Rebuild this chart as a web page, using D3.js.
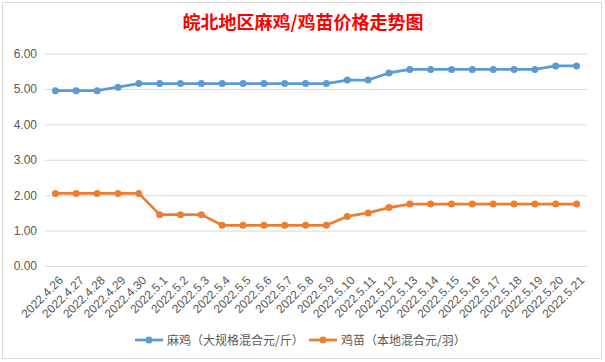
<!DOCTYPE html>
<html>
<head>
<meta charset="utf-8">
<script src="https://cdn.jsdelivr.net/npm/d3@7"></script>
<style>
  body { margin: 0; background: #fff; }
  svg { display: block; font-family: "Noto Sans CJK SC", "Liberation Sans", sans-serif; }
</style>
</head>
<body>
<svg id="chart" width="605" height="362"></svg>
<script>
  const dates = [
    "2022.4.26", "2022.4.27", "2022.4.28", "2022.4.29", "2022.4.30",
    "2022.5.1", "2022.5.2", "2022.5.3", "2022.5.4", "2022.5.5",
    "2022.5.6", "2022.5.7", "2022.5.8", "2022.5.9", "2022.5.10",
    "2022.5.11", "2022.5.12", "2022.5.13", "2022.5.14", "2022.5.15",
    "2022.5.16", "2022.5.17", "2022.5.18", "2022.5.19", "2022.5.20",
    "2022.5.21",
  ];

  // 麻鸡（大规格混合 元/斤）
  const maji = [
    4.95, 4.95, 4.95, 5.05, 5.15, 5.15, 5.15, 5.15, 5.15, 5.15,
    5.15, 5.15, 5.15, 5.15, 5.25, 5.25, 5.45, 5.55, 5.55, 5.55,
    5.55, 5.55, 5.55, 5.55, 5.65, 5.65,
  ];

  // 鸡苗（本地混合 元/羽）
  const jimiao = [
    2.05, 2.05, 2.05, 2.05, 2.05, 1.45, 1.45, 1.45, 1.15, 1.15,
    1.15, 1.15, 1.15, 1.15, 1.4, 1.5, 1.65, 1.75, 1.75, 1.75,
    1.75, 1.75, 1.75, 1.75, 1.75, 1.75,
  ];

  const yTicks = [0, 1, 2, 3, 4, 5, 6];

  const series = [
    { name: "麻鸡（大规格混合元/斤）", values: maji, color: "#5b9bd5" },
    { name: "鸡苗（本地混合元/羽）", values: jimiao, color: "#ed7d31" },
  ];

  const svg = d3.select("#chart");

  // chart frame
  svg.append("rect")
    .attr("x", 2.5).attr("y", 2.5)
    .attr("width", 599).attr("height", 356)
    .attr("fill", "#fff")
    .attr("stroke", "#d9d9d9");

  svg.append("text")
    .attr("x", 303).attr("y", 29)
    .attr("text-anchor", "middle")
    .attr("fill", "#ff0000")
    .attr("font-size", 18)
    .attr("font-weight", "bold")
    .text("皖北地区麻鸡/鸡苗价格走势图");

  const x = d3.scalePoint()
    .domain(dates)
    .range([45, 587])
    .padding(0.5);

  const y = d3.scaleLinear()
    .domain([0, 6])
    .range([266, 53.5]);

  // gridlines + y labels
  const yAxis = svg.append("g")
    .attr("transform", "translate(45,0)")
    .call(d3.axisLeft(y).tickValues(yTicks).tickFormat(d3.format(".2f")).tickSize(-542).tickPadding(8));
  yAxis.select(".domain").remove();
  yAxis.selectAll("line").attr("stroke", "#d9d9d9");
  yAxis.selectAll("text")
    .attr("fill", "#595959")
    .attr("font-size", 12)
    .attr("font-family", "Liberation Sans, sans-serif");

  // x labels
  const xAxis = svg.append("g")
    .attr("transform", "translate(0,266)")
    .call(d3.axisBottom(x).tickSize(0));
  xAxis.select(".domain").remove();
  xAxis.selectAll("text")
    .attr("fill", "#595959")
    .attr("font-size", 12)
    .attr("font-family", "Liberation Sans, sans-serif")
    .attr("text-anchor", "end")
    .attr("transform", "translate(2,9) rotate(-45)")
    .attr("y", 0).attr("dy", "0.71em").attr("x", 0);

  const line = d3.line()
    .x((d, i) => x(dates[i]))
    .y((d) => y(d));

  series.forEach((s) => {
    svg.append("path")
      .datum(s.values)
      .attr("fill", "none")
      .attr("stroke", s.color)
      .attr("stroke-width", 2.75)
      .attr("stroke-linejoin", "round")
      .attr("d", line);

    svg.append("g")
      .selectAll("circle")
      .data(s.values)
      .enter()
      .append("circle")
      .attr("cx", (d, i) => x(dates[i]))
      .attr("cy", (d) => y(d))
      .attr("r", 3.5)
      .attr("fill", s.color);
  });

  // legend
  const legendX = [135, 309];
  series.forEach((s, i) => {
    const g = svg.append("g").attr("transform", `translate(${legendX[i]},340)`);
    g.append("line")
      .attr("x1", 0).attr("x2", 28)
      .attr("stroke", s.color)
      .attr("stroke-width", 2.75);
    g.append("circle").attr("cx", 14).attr("r", 3.5).attr("fill", s.color);
    g.append("text")
      .attr("x", 32).attr("y", 4.5)
      .attr("fill", "#595959")
      .attr("font-size", 12)
      .text(s.name);
  });
</script>
</body>
</html>
